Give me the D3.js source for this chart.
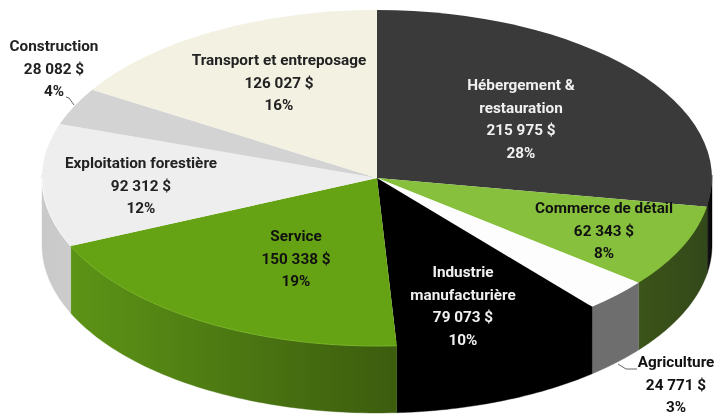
<!DOCTYPE html>
<html><head><meta charset="utf-8">
<script src="https://cdn.jsdelivr.net/npm/d3@7"></script>
<style>html,body{margin:0;padding:0;background:#fff}svg{display:block;filter:blur(.45px)}text{font-family:Roboto,sans-serif;font-weight:700;font-size:15.3px;text-anchor:middle;dominant-baseline:central}</style>
</head><body><svg id="c" width="717" height="416"></svg>
<script>
const categories=[["Hébergement &","restauration"],["Commerce de détail"],["Agriculture"],["Industrie","manufacturière"],["Service"],["Exploitation forestière"],["Construction"],["Transport et entreposage"]];
const values=[215975,62343,24771,79073,150338,92312,28082,126027];
const topColors=["#3a3a3a","#86c03c","#fdfdfd","#000000","#66a314","#eeeeee","#d3d3d3","#f3f1e2"];
const wallLeft=["#1a1a1a","#3b5418","#6e6e6e","#000000","#5c9416","#c9c9c9","#bbbbbb","#dddddd"];
const wallRight=["#000000","#33481a","#6e6e6e","#000000","#3c5c0e","#cccccc","#bbbbbb","#dddddd"];
const rimColors=[null,null,null,null,"#7ab52a","#ffffff",null,null];
const textColors=["#f0f0f0","#111","#111","#f0f0f0","#111","#222","#222","#222"];
const labelX=[521,604,676,463,296,141,54,279];
const labelY=[85,208,362,272,236,163,46,60];
const leaders=[null,null,[[618,364],[626,369],[637,369]],null,null,null,[[66,97],[69,98],[74,105]],null];

const cx=377,cy=178,rx=335,ry=168,depth=67,lh=22.7;
const svg=d3.select("#c"),defs=svg.append("defs");
const total=d3.sum(values);
const fmt=d3.formatLocale({decimal:",",thousands:" ",grouping:[3],currency:["","$"]}).format(",d");
const arcs=d3.pie().sort(null).value(d=>d)(values);
const px=t=>cx+rx*Math.sin(t),py=t=>cy-ry*Math.cos(t);

arcs.forEach((a,i)=>{
  const g=defs.append("linearGradient").attr("id","w"+i);
  g.append("stop").attr("offset",0).attr("stop-color",wallLeft[i]);
  g.append("stop").attr("offset",1).attr("stop-color",wallRight[i]);
});
const lo=Math.PI/2,hi=3*Math.PI/2;
const line=d3.line();
const walls=[];
arcs.forEach((a,i)=>{
  const s=Math.max(a.startAngle,lo),e=Math.min(a.endAngle,hi);
  if(e<=s)return;
  const ts=d3.range(0,61).map(k=>s+(e-s)*k/60);
  walls.push({i,ts});
  // the wall's top edge runs 3px under the face so no seam shows between them
  const pts=ts.map(t=>[px(t),py(t)-3]).concat(ts.slice().reverse().map(t=>[px(t),py(t)+depth]));
  svg.append("path").attr("d",line(pts)+"Z")
    .attr("fill",`url(#w${i})`)
    .attr("stroke",`url(#w${i})`).attr("stroke-width",.4);
});
const arc=d3.arc().innerRadius(0).outerRadius(1);
svg.append("g").attr("transform",`translate(${cx},${cy}) scale(${rx},${ry})`)
  .selectAll("path").data(arcs).join("path").attr("d",arc).attr("fill",(d,i)=>topColors[i]);
walls.forEach(w=>{
  if(rimColors[w.i])svg.append("path").attr("d",line(w.ts.map(t=>[px(t),py(t)])))
    .attr("fill","none").attr("stroke",rimColors[w.i]).attr("stroke-width",1);
});
leaders.forEach(l=>{if(l)svg.append("path").attr("d",line(l)).attr("fill","none").attr("stroke","#666").attr("stroke-width",1);});
arcs.forEach((a,i)=>{
  const lines=categories[i].concat([fmt(values[i])+" $",Math.round(values[i]/total*100)+"%"]);
  const t=svg.append("text").attr("fill",textColors[i]);
  lines.forEach((s,k)=>t.append("tspan").attr("x",labelX[i]).attr("y",labelY[i]+k*lh).text(s));
});
</script></body></html>
